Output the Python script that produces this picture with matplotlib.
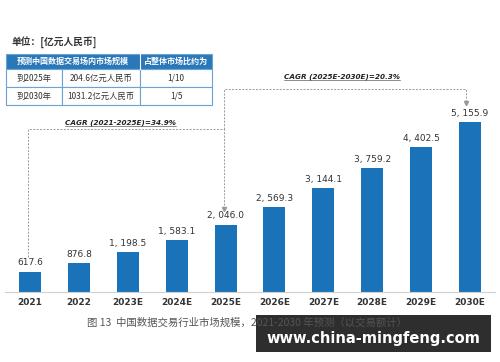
import matplotlib.pyplot as plt
from matplotlib.patches import Rectangle

plt.rcParams['font.family'] = ['Noto Sans CJK SC', 'DejaVu Sans']

# data
years = ["2021", "2022", "2023E", "2024E", "2025E", "2026E", "2027E", "2028E", "2029E", "2030E"]
values = [617.6, 876.8, 1198.5, 1583.1, 2046.0, 2569.3, 3144.1, 3759.2, 4402.5, 5155.9]
labels = ["617.6", "876.8", "1, 198.5", "1, 583.1", "2, 046.0", "2, 569.3",
          "3, 144.1", "3, 759.2", "4, 402.5", "5, 155.9"]
cagr_texts = ["CAGR (2021-2025E)=34.9%", "CAGR (2025E-2030E)=20.3%"]
table_head = ["预测中国数据交易场内市场规模", "占整体市场比约为"]
table_rows = [["到2025年", "204.6亿元人民币", "1/10"],
              ["到2030年", "1031.2亿元人民币", "1/5"]]

W, H = 500, 362
fig = plt.figure(figsize=(5, 3.62), dpi=100)

def fx(px):
    return px / W

def fy(py):
    return 1 - py / H

blue = "#1a73b8"
txt = "#333333"

# bar chart axes: baseline at y=292px, top at 60px
ax = fig.add_axes([fx(5), fy(292), fx(490), (292 - 60) / H])
x = list(range(len(years)))
ax.bar(x, values, width=0.45, color=blue)
ax.set_xlim(-0.511, 9.511)
ax.set_ylim(0, 7036)
for s in ["top", "right", "left"]:
    ax.spines[s].set_visible(False)
ax.spines["bottom"].set_color("#d0d0d0")
ax.spines["bottom"].set_linewidth(0.8)
ax.set_yticks([])
ax.set_xticks(x)
ax.set_xticklabels(years, fontsize=6.5, color=txt, fontweight="bold", family="DejaVu Sans")
ax.tick_params(axis="x", length=0, pad=4)

for i, v in enumerate(values):
    ax.annotate(labels[i], (i, v), xytext=(0, 3), textcoords="offset points",
                ha="center", va="bottom", fontsize=6.5, color=txt, family="DejaVu Sans")

# CAGR dashed connectors
dc = "#999999"
kw = dict(color=dc, lw=0.7, ls=(0, (2, 1.5)), clip_on=False)
xl, xm, xr = -0.05, 3.97, 8.92
y1, y2 = 4944, 6157
ax.plot([xl, xl, xm, xm], [values[0] + 450, y1, y1, values[4] + 480], **kw)
ax.plot([xm, xm, xr, xr], [y1, y2, y2, values[9] + 600], **kw)
ax.plot([xm], [values[4] + 470], marker="v", ms=3, color=dc, clip_on=False)
ax.plot([xr], [values[9] + 580], marker="v", ms=3, color=dc, clip_on=False)

fig.canvas.draw()
r = fig.canvas.get_renderer()
for t, cx, cy in [(cagr_texts[0], 1.86, 5126), (cagr_texts[1], 6.38, 6521)]:
    tt = ax.text(cx, cy, t, ha="center", va="center", fontsize=5.2,
                 style="italic", color="#222222", fontweight="bold", family="DejaVu Sans")
    bb = tt.get_window_extent(renderer=r).transformed(ax.transData.inverted())
    ax.plot([bb.x0, bb.x1], [bb.y0, bb.y0], color=txt, lw=0.4, clip_on=False)

# unit label
fig.text(fx(12), fy(42), "单位：[亿元人民币]", fontsize=7, color=txt,
         fontweight="bold", va="center", ha="left")

# table (drawn in pixel units)
tax = fig.add_axes([fx(6), fy(105), fx(206), (105 - 54) / H])
tax.set_xlim(0, 206)
tax.set_ylim(51, 0)
tax.axis("off")
edge = "#6aa3d6"
tab_blue = "#2a78b8"
cols = [0, 56, 134, 206]
rows = [0, 15, 33, 51]
tax.add_patch(Rectangle((0, 0), 206, 15, facecolor=tab_blue, edgecolor=edge, lw=0.8, clip_on=False))
tax.plot([134, 134], [0, 15], color="white", lw=0.8)
tax.text(67, 7.5, table_head[0], ha="center", va="center", fontsize=5.8, color="white", fontweight="bold")
tax.text(170, 7.5, table_head[1], ha="center", va="center", fontsize=5.8, color="white", fontweight="bold")
for ri, row in enumerate(table_rows):
    for c, val in enumerate(row):
        tax.add_patch(Rectangle((cols[c], rows[ri + 1]), cols[c + 1] - cols[c], rows[ri + 2] - rows[ri + 1],
                                facecolor="white", edgecolor=edge, lw=0.8, clip_on=False))
        tax.text((cols[c] + cols[c + 1]) / 2, (rows[ri + 1] + rows[ri + 2]) / 2, val,
                 ha="center", va="center", fontsize=6, color=txt)

# caption
fig.text(fx(247), fy(323), "图 13  中国数据交易行业市场规模，2021-2030 年预测（以交易额计）",
         ha="center", va="center", fontsize=7.5, color="#555555")

# watermark banner
fig.patches.append(Rectangle((fx(256), fy(352)), fx(235), (352 - 315) / H,
                             transform=fig.transFigure, facecolor="black", alpha=0.82))
fig.text(fx(373), fy(339), "www.china-mingfeng.com", ha="center", va="center",
         fontsize=10.5, color="white", fontweight="bold", family="DejaVu Sans")

fig.savefig("out.png", dpi=100)
